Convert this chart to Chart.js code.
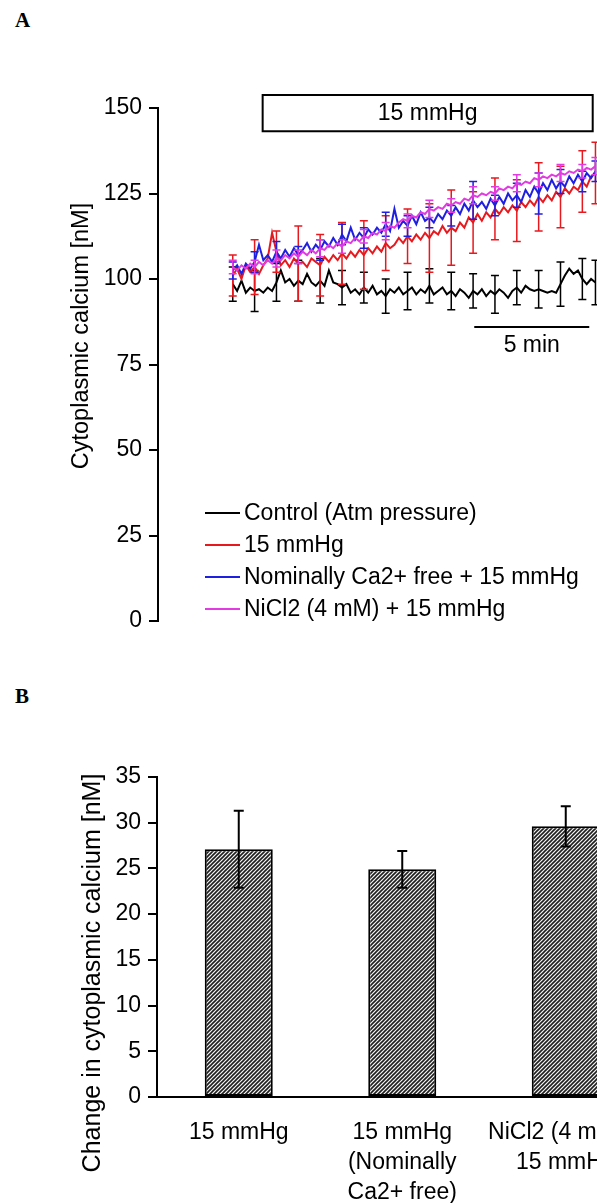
<!DOCTYPE html>
<html>
<head>
<meta charset="utf-8">
<script src="https://cdn.jsdelivr.net/npm/chart.js@4.4.1/dist/chart.umd.min.js"></script>
<style>
  html, body { margin: 0; padding: 0; background: #fff; }
  body { width: 597px; height: 1203px; overflow: hidden; position: relative; }
  canvas { position: absolute; left: 0; }
  #chartA { top: 0; }
  #chartB { top: 660px; }
  .panel-tag { position: absolute; left: 15px; font: bold 21px 'Liberation Serif', 'DejaVu Serif', serif; color: #000; }
</style>
</head>
<body>
<div class="panel-tag" style="top: 8px;">A</div>
<div class="panel-tag" style="top: 684px;">B</div>
<canvas id="chartA" width="700" height="660" style="width:700px;height:660px"></canvas>
<canvas id="chartB" width="700" height="543" style="width:700px;height:543px"></canvas>
<script>
// Panel A: cytoplasmic calcium traces (nM), one sample every SAMPLE_MIN minutes
const SAMPLE_MIN = 0.19;

const seriesLabels = [
  'Control (Atm pressure)',
  '15 mmHg',
  'Nominally Ca2+ free + 15 mmHg',
  'NiCl2 (4 mM) + 15 mmHg'
];
const seriesColors = ['#000000', '#e8191e', '#1f1fe0', '#e23be2'];

const controlValues = [
  98.5, 96.5, 99.5, 96, 97.5, 96.5, 97, 96, 97.5, 96.5,
  99, 102.5, 99, 100, 98, 99.5, 98.5, 101.5, 99, 98,
  99.5, 98, 102.5, 99, 98.5, 97.5, 98.5, 96, 97, 95.5,
  97.5, 96, 98, 95.5, 96.5, 95, 97, 96, 97.5, 95.5,
  96.5, 97.5, 95.5, 97, 96, 98, 95.5, 96.5, 97.5, 95.5,
  96.5, 95, 97, 96, 94.5, 96.5, 95.5, 97, 95, 96.5,
  95.5, 97, 96, 94.5, 96.5, 97.5, 96, 98, 97, 96.5,
  97, 96.5, 96, 96.5, 96, 98.5, 101, 103, 101.5, 102.5,
  100, 98.5, 100, 99
];
const pressureValues = [
  101, 103, 100, 104, 102, 103.5, 101.5, 104, 106, 113.5,
  108, 104, 105.5, 103.5, 106, 104.5, 105, 103.5, 106, 105,
  104, 106.5, 105, 107, 105.5, 107.5, 106, 108, 106.5, 108.5,
  107, 109, 107.5, 109.5, 108, 110.5, 109, 110, 112, 110.5,
  112.5, 111, 113, 111.5, 113.5, 112, 114, 113, 115.5, 113.5,
  115, 114, 116.5, 115, 118, 116.5, 119, 117, 119.5, 118,
  120.5, 119, 121, 119.5, 121.5, 120, 122.5, 121, 123, 121.5,
  124, 122.5, 124.5, 123, 125.5, 124, 126.5, 125, 127, 126,
  128.5, 127, 130, 131
];
const caFreeValues = [
  102.5, 104, 101.5, 104.5, 103, 105, 110, 105.5, 107, 105,
  108, 106, 108.5, 106.5, 109, 107, 108.5, 110.5, 108, 110,
  108.5, 111, 109.5, 112, 110, 113, 111, 115, 111.5, 113.5,
  112, 114.5, 113, 115, 113.5, 116, 114, 120.5, 115, 117,
  115.5, 118.5, 116, 119.5, 117, 118, 116.5, 119, 117.5, 120,
  118.5, 121, 119, 122, 120, 123, 121, 122.5, 120.5, 123.5,
  121.5, 124, 122, 125, 123, 124.5, 122.5, 126, 124, 127,
  125, 128, 126, 129, 126.5, 128.5, 127, 130, 128, 130.5,
  128.5, 131, 129.5, 131.5
];
const nickelValues = [
  103.5, 102.5, 104, 103, 104.5, 103.5, 105, 104, 105.5, 104.5,
  106, 105.5, 107, 106, 107.5, 106.5, 108, 107, 108.5, 107.5,
  109, 108.5, 110, 109, 110.5, 109.5, 111, 110.5, 112, 111,
  112.5, 112, 113.5, 113, 114.5, 114, 115.5, 115, 116.5, 117.5,
  117, 118.5, 118, 119.5, 119, 120.5, 120, 121, 120.5, 122,
  121.5, 122.5, 122, 123.5, 123, 124.5, 124, 125, 124.5, 125.5,
  125, 126.5, 126, 127, 126.5, 128, 127.5, 128.5, 128, 129.5,
  129, 130, 129.5, 130.5, 130, 131, 130.5, 131.5, 131, 132,
  131.5, 132.5, 132, 133
];

// samples that carry an error bar, and the SD at each of them
const errorIndex = [0, 5, 10, 15, 20, 25, 30, 35, 40, 45, 50, 55, 60, 65, 70, 75, 80, 83];
const controlErr = [5, 6, 5.5, 6, 6.5, 5, 4.5, 5, 5.5, 5, 5.5, 5, 5.5, 5, 5.5, 6.5, 6, 6.5];
const pressureErr = [6, 8, 6, 11, 9, 9, 10, 8, 8, 10, 11, 9, 9, 9, 10, 9, 9, 9];
const caFreeErr = [2.5, 3, 3, 2.5, 3, 3, 3, 3.5, 3, 3, 3, 5.5, 3, 3.5, 6, 3.5, 3, 3];
const nickelErr = [2, 2, 2.5, 2, 2.5, 2, 2, 2.5, 2, 2.5, 2, 2.5, 2, 2.5, 2, 2.5, 2, 2.5];

const yTicksA = { min: 0, max: 150, step: 25 };
const stimulus = { label: '15 mmHg', start: 1.3, end: 15.65, low: 143.2, high: 153.8 };
const scaleBar = { label: '5 min', start: 10.5, minutes: 5, level: 86 };

// Panel B: change in cytoplasmic calcium (nM)
const barLabels = [
  ['15 mmHg'],
  ['15 mmHg', '(Nominally', 'Ca2+ free)'],
  ['NiCl2 (4 mM) +', '15 mmHg']
];
const barValues = [27.1, 24.9, 29.6];
const barErr = [4.2, 2.0, 2.2];
const yTicksB = { min: 0, max: 35, step: 5 };

const FONT = "'Liberation Sans', Arial, sans-serif";

// Error bars drawn right after their own dataset so layering follows the traces
const errorBarPlugin = {
  id: 'errorBars',
  afterDatasetDraw(chart, args) {
    const ds = chart.data.datasets[args.index];
    if (!ds.errors) return;
    const ctx = chart.ctx;
    const yS = chart.scales.y;
    ctx.save();
    ctx.strokeStyle = ds.errColor || ds.borderColor;
    ctx.lineWidth = ds.errWidth || 1.5;
    ds.errors.forEach(e => {
      const el = args.meta.data[e.index];
      const v = ds.data[e.index];
      const val = typeof v === 'object' ? v.y : v;
      const x = el.x;
      const top = yS.getPixelForValue(val + e.sd);
      const bot = yS.getPixelForValue(val - e.sd);
      const cap = ds.capHalf || 4;
      ctx.beginPath();
      ctx.moveTo(x, top); ctx.lineTo(x, bot);
      ctx.moveTo(x - cap, top); ctx.lineTo(x + cap, top);
      ctx.moveTo(x - cap, bot); ctx.lineTo(x + cap, bot);
      ctx.stroke();
    });
    ctx.restore();
  }
};

function verticalTitle(chart, text, cx, cy, size) {
  const ctx = chart.ctx;
  ctx.save();
  ctx.translate(cx, cy);
  ctx.rotate(-Math.PI / 2);
  ctx.fillStyle = '#000';
  ctx.font = `${size}px ${FONT}`;
  ctx.textAlign = 'center';
  ctx.textBaseline = 'middle';
  ctx.fillText(text, 0, 0);
  ctx.restore();
}

// Stimulus box, time scale bar, legend and y title for panel A
const panelADecor = {
  id: 'panelADecor',
  afterDraw(chart) {
    const ctx = chart.ctx;
    const xS = chart.scales.x, yS = chart.scales.y;
    ctx.save();
    ctx.strokeStyle = '#000';
    ctx.fillStyle = '#000';
    ctx.font = `23px ${FONT}`;
    ctx.textAlign = 'center';
    ctx.textBaseline = 'middle';

    // stimulus period box
    const bx1 = xS.getPixelForValue(stimulus.start), bx2 = xS.getPixelForValue(stimulus.end);
    const by1 = yS.getPixelForValue(stimulus.high), by2 = yS.getPixelForValue(stimulus.low);
    ctx.lineWidth = 2;
    ctx.strokeRect(bx1, by1, bx2 - bx1, by2 - by1);
    ctx.fillText(stimulus.label, (bx1 + bx2) / 2, (by1 + by2) / 2 + 1);

    // scale bar
    const sx1 = xS.getPixelForValue(scaleBar.start);
    const sx2 = xS.getPixelForValue(scaleBar.start + scaleBar.minutes);
    const sy = yS.getPixelForValue(scaleBar.level);
    ctx.beginPath();
    ctx.moveTo(sx1, sy); ctx.lineTo(sx2, sy);
    ctx.stroke();
    ctx.fillText(scaleBar.label, (sx1 + sx2) / 2, sy + 19);

    // legend
    ctx.textAlign = 'left';
    chart.data.datasets.forEach((ds, i) => {
      const y = 513 + i * 32;
      ctx.strokeStyle = ds.borderColor;
      ctx.lineWidth = 2;
      ctx.beginPath();
      ctx.moveTo(205, y); ctx.lineTo(240, y);
      ctx.stroke();
      ctx.fillStyle = '#000';
      ctx.fillText(ds.label, 244, y + 1);
    });
    ctx.restore();

    verticalTitle(chart, 'Cytoplasmic calcium [nM]', 82, 336, 23.5);
  }
};

const panelBDecor = {
  id: 'panelBDecor',
  afterDraw(chart) {
    verticalTitle(chart, 'Change in cytoplasmic calcium [nM]', 93, 313, 25);
  }
};

function yAxis(t, width) {
  return {
    min: t.min, max: t.max,
    ticks: { stepSize: t.step, color: '#000', font: { family: FONT, size: 23 }, padding: 7 },
    grid: { drawOnChartArea: false, drawTicks: true, tickLength: 9, color: '#000', lineWidth: 2 },
    border: { display: true, color: '#000', width: 2 },
    afterFit(scale) { scale.width = width; }
  };
}

function makeHatch(ctx) {
  const tile = document.createElement('canvas');
  tile.width = 4; tile.height = 4;
  const g = tile.getContext('2d');
  g.fillStyle = '#f4f4f4';
  g.fillRect(0, 0, 4, 4);
  g.strokeStyle = '#1e1e1e';
  g.lineWidth = 1.6;
  g.beginPath();
  g.moveTo(0, 4); g.lineTo(4, 0);
  g.moveTo(-1, 1); g.lineTo(1, -1);
  g.moveTo(3, 5); g.lineTo(5, 3);
  g.stroke();
  return ctx.createPattern(tile, 'repeat');
}

const traceSets = [
  { values: controlValues, err: controlErr, order: 4 },
  { values: pressureValues, err: pressureErr, order: 3 },
  { values: caFreeValues, err: caFreeErr, order: 2 },
  { values: nickelValues, err: nickelErr, order: 1 }
];

new Chart(document.getElementById('chartA'), {
  type: 'line',
  data: {
    datasets: traceSets.map((s, i) => ({
      label: seriesLabels[i],
      data: s.values.map((v, k) => ({ x: k * SAMPLE_MIN, y: v })),
      borderColor: seriesColors[i],
      borderWidth: 2,
      pointRadius: 0,
      tension: 0,
      fill: false,
      order: s.order,
      errWidth: 1.5,
      capHalf: 4,
      errors: errorIndex.map((idx, j) => ({ index: idx, sd: s.err[j] }))
    }))
  },
  options: {
    responsive: false,
    animation: false,
    events: [],
    layout: { padding: { left: 0, top: 108, right: 82, bottom: 39 } },
    plugins: { legend: { display: false }, tooltip: { enabled: false } },
    scales: {
      x: { type: 'linear', min: -3.25, max: 16.75, display: false },
      y: yAxis(yTicksA, 158)
    }
  },
  plugins: [errorBarPlugin, panelADecor]
});

const canvasB = document.getElementById('chartB');
new Chart(canvasB, {
  type: 'bar',
  data: {
    labels: barLabels,
    datasets: [{
      data: barValues,
      backgroundColor: makeHatch(canvasB.getContext('2d')),
      borderColor: '#000',
      borderWidth: 2,
      borderSkipped: false,
      categoryPercentage: 1,
      barPercentage: 0.416,
      errColor: '#000',
      errWidth: 2,
      capHalf: 5,
      errors: barErr.map((sd, i) => ({ index: i, sd: sd }))
    }]
  },
  options: {
    responsive: false,
    animation: false,
    events: [],
    layout: { padding: { left: 0, top: 117, right: 52.5, bottom: 0 } },
    plugins: { legend: { display: false }, tooltip: { enabled: false } },
    scales: {
      x: {
        grid: { display: false, drawTicks: false },
        border: { display: true, color: '#000', width: 2 },
        ticks: { color: '#000', font: { family: FONT, size: 23, lineHeight: '30px' }, padding: 21, maxRotation: 0, autoSkip: false },
        afterFit(scale) { scale.height = 106; }
      },
      y: yAxis(yTicksB, 157)
    }
  },
  plugins: [errorBarPlugin, panelBDecor]
});
</script>
</body>
</html>
